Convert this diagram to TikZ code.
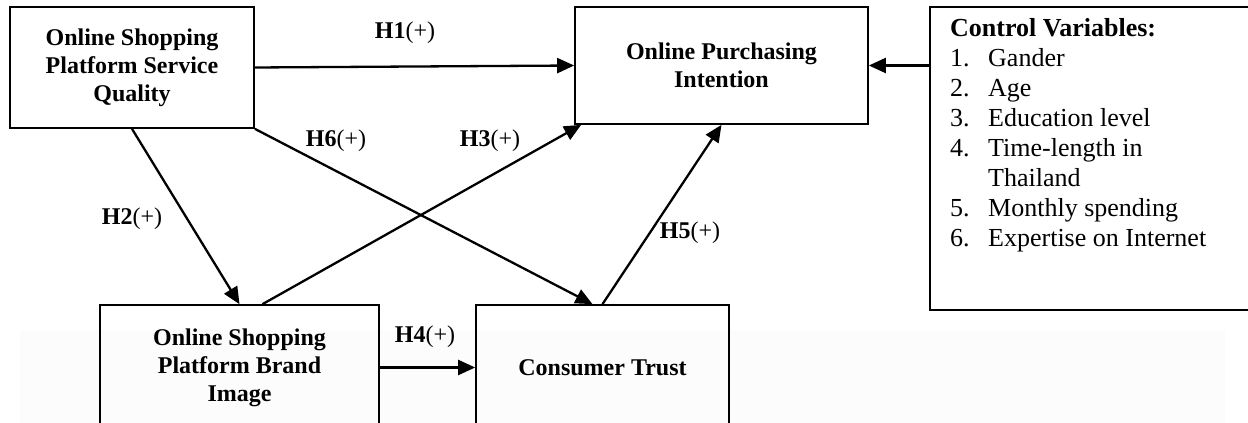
\documentclass[tikz,border=0pt]{standalone}
\usepackage{fontspec}
\setmainfont{Liberation Serif}
\usetikzlibrary{arrows.meta,calc}
\begin{document}
\begin{tikzpicture}[x=1pt,y=-1pt,
  box/.style={draw=black,line width=1.7pt,inner sep=0pt,align=center,
    font=\fontsize{24}{28}\selectfont\bfseries},
  conn/.style={line width=2.3pt,-{Triangle[length=17pt,width=15pt]}},
  hyp/.style={font=\fontsize{24}{28}\selectfont,inner sep=0pt}]
\useasboundingbox (0,0) rectangle (1248,423);
\clip (0,0) rectangle (1248,423);
\fill[black!1.2] (20,330) rectangle (1225,430);
% boxes
\node[box,minimum width=244pt,minimum height=121pt] (A) at (132,67.5)
  {Online Shopping\\Platform Service\\Quality};
\node[box,minimum width=293pt,minimum height=117pt] (B) at (721.5,65.5)
  {Online Purchasing\\Intention};
\node[box,minimum width=330pt,minimum height=303pt] (C) at (1095,158.5) {};
\node[anchor=north west,align=left,inner sep=0pt,
  font=\fontsize{26}{30}\selectfont] (CT) at (950,18)
  {\textbf{Control Variables:}\\
   \makebox[38pt][l]{1.}Gander\\
   \makebox[38pt][l]{2.}Age\\
   \makebox[38pt][l]{3.}Education level\\
   \makebox[38pt][l]{4.}Time-length in\\
   \makebox[38pt][l]{}Thailand\\
   \makebox[38pt][l]{5.}Monthly spending\\
   \makebox[38pt][l]{6.}Expertise on Internet};
\node[box,minimum width=279pt,minimum height=125pt] (D) at (239.5,367.5)
  {Online Shopping\\Platform Brand\\Image};
\node[box,minimum width=253pt,minimum height=125pt] (E) at (602.5,367.5)
  {Consumer Trust};
% connectors
\draw[conn] (A.east) -- (B.west);
\draw[conn] (C.west |- B.east) -- (B.east);
\draw[conn] (A.south) -- (D.north);
\draw[conn] (A.south east) -- ([xshift=-10pt]E.north);
\draw[conn] ([xshift=23pt]D.north) -- ([xshift=7pt]B.south west);
\draw[conn] (E.north) -- (B.south);
\draw[conn] (D.east) -- (E.west);
% labels
\node[hyp] (h1) at (405,33) {\textbf{H1}(+)};
\node[hyp] (h2) at (132,219) {\textbf{H2}(+)};
\node[hyp] (h3) at (490,141) {\textbf{H3}(+)};
\node[hyp] (h4) at (425,337) {\textbf{H4}(+)};
\node[hyp] (h5) at (690,233) {\textbf{H5}(+)};
\node[hyp] (h6) at (336,141) {\textbf{H6}(+)};
\end{tikzpicture}
\end{document}
